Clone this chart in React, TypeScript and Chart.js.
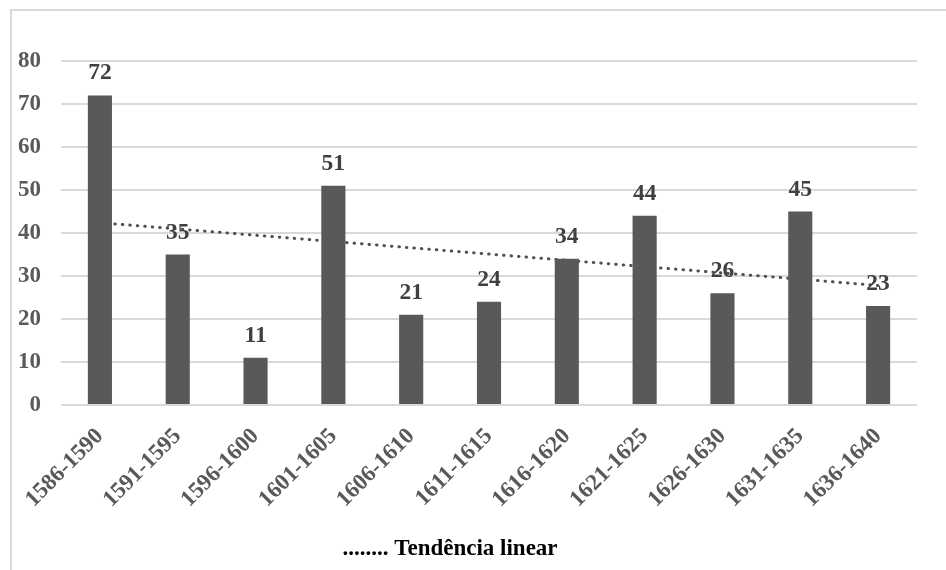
import React, { useEffect, useRef } from "react";
import { Chart, registerables } from "chart.js";

Chart.register(...registerables);

// ---- data ----
const categories = [
  "1586-1590",
  "1591-1595",
  "1596-1600",
  "1601-1605",
  "1606-1610",
  "1611-1615",
  "1616-1620",
  "1621-1625",
  "1626-1630",
  "1631-1635",
  "1636-1640",
];
const counts = [72, 35, 11, 51, 21, 24, 34, 44, 26, 45, 23];
// dotted linear trend line, read at the first and last period
const trendEnds = [42.4, 27.8];
const yMin = 0;
const yMax = 80;
const yStep = 10;
const legendText = "........ Tendência linear";

const FONT = "'Liberation Serif', 'Times New Roman', serif";

const barLabels = {
  id: "barLabels",
  afterDatasetsDraw(chart: any) {
    const ctx = chart.ctx;
    const meta = chart.getDatasetMeta(0);
    ctx.save();
    ctx.font = `bold 23.5px ${FONT}`;
    ctx.fillStyle = "#404040";
    ctx.textAlign = "center";
    ctx.textBaseline = "alphabetic";
    meta.data.forEach((el: any, i: number) => {
      ctx.fillText(String(counts[i]), el.x, el.y - 16);
    });
    ctx.restore();
  },
};

const bottomLegend = {
  id: "bottomLegend",
  afterDraw(chart: any) {
    const ctx = chart.ctx;
    ctx.save();
    ctx.font = `bold 23px ${FONT}`;
    ctx.fillStyle = "#000000";
    ctx.textAlign = "center";
    ctx.textBaseline = "middle";
    ctx.fillText(legendText, 450, 549);
    ctx.restore();
  },
};

export default function App() {
  const ref = useRef<HTMLCanvasElement | null>(null);

  useEffect(() => {
    if (!ref.current) return;
    const last = categories.length - 1;
    const trendData = categories.map((_, i) =>
      i === 0 ? trendEnds[0] : i === last ? trendEnds[1] : null
    );
    const chart = new Chart(ref.current, {
      type: "bar",
      data: {
        labels: categories,
        datasets: [
          {
            type: "bar",
            label: "Total",
            data: counts,
            backgroundColor: "#595959",
            borderWidth: 0,
            barPercentage: 0.31,
            categoryPercentage: 1,
            order: 1,
          },
          {
            type: "line",
            label: "Tendência linear",
            data: trendData as any,
            spanGaps: true,
            borderColor: "#505050",
            borderWidth: 3,
            borderDash: [0.5, 7],
            borderCapStyle: "round",
            pointRadius: 0,
            fill: false,
            order: 2,
          } as any,
        ],
      },
      options: {
        responsive: false,
        animation: false,
        layout: { padding: { left: 10, top: 61, right: 29, bottom: 34 } },
        plugins: {
          legend: { display: false },
          tooltip: { enabled: false },
          title: { display: false },
        },
        scales: {
          x: {
            grid: { display: false, drawTicks: false },
            border: { display: false },
            ticks: {
              autoSkip: false,
              maxRotation: 45,
              minRotation: 45,
              padding: 18,
              labelOffset: 0,
              color: "#595959",
              font: { family: FONT, size: 23, weight: "bold" },
            },
            afterFit: (s: any) => {
              s.height = 131;
            },
          },
          y: {
            min: yMin,
            max: yMax,
            ticks: {
              stepSize: yStep,
              padding: 20,
              color: "#595959",
              font: { family: FONT, size: 23, weight: "bold" },
            },
            grid: { color: "#d9d9d9", lineWidth: 2, drawTicks: false },
            border: { display: false },
            afterFit: (s: any) => {
              s.width = 51;
            },
          },
        },
      },
      plugins: [barLabels, bottomLegend],
    });
    return () => chart.destroy();
  }, []);

  return (
    <div
      style={{
        position: "fixed",
        left: 0,
        top: 0,
        width: 946,
        height: 570,
        background: "#ffffff",
        overflow: "hidden",
      }}
    >
      <div
        style={{
          position: "absolute",
          left: 10,
          top: 9,
          width: 960,
          height: 600,
          borderTop: "2px solid #d9d9d9",
          borderLeft: "2px solid #d9d9d9",
        }}
      />
      <canvas
        ref={ref}
        width={946}
        height={570}
        style={{ position: "absolute", left: 0, top: 0, width: 946, height: 570 }}
      />
    </div>
  );
}
